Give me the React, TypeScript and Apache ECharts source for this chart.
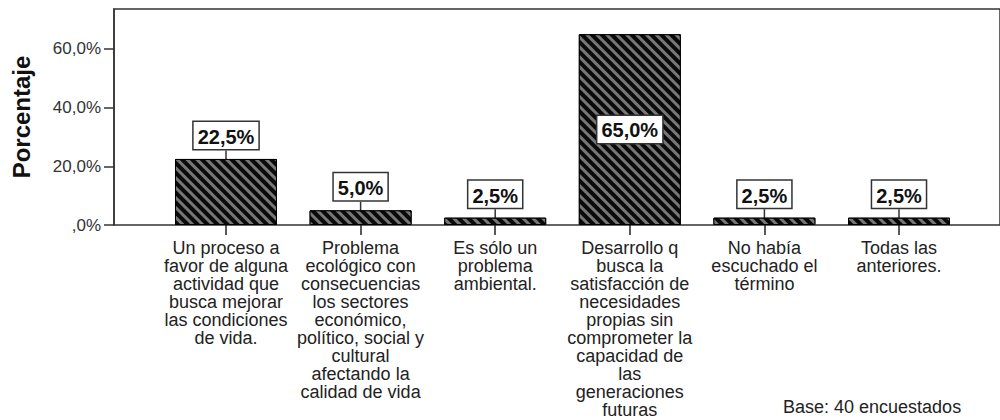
import React, { useEffect, useRef } from "react";
import * as echarts from "echarts";

const categories: string[] = [
  "Un proceso a\nfavor de alguna\nactividad que\nbusca mejorar\nlas condiciones\nde vida.",
  "Problema\necológico con\nconsecuencias\nlos sectores\neconómico,\npolítico, social y\ncultural\nafectando la\ncalidad de vida",
  "Es sólo un\nproblema\nambiental.",
  "Desarrollo q\nbusca la\nsatisfacción de\nnecesidades\npropias sin\ncomprometer la\ncapacidad de\nlas\ngeneraciones\nfuturas",
  "No había\nescuchado el\ntérmino",
  "Todas las\nanteriores.",
];
const percentages: number[] = [22.5, 5.0, 2.5, 65.0, 2.5, 2.5];
const yTicks: number[] = [0, 20, 40, 60];
const yAxisTitle = "Porcentaje";
const baseNote = "Base: 40 encuestados";

const fmtPct = (v: number) => (v === 0 ? ",0%" : v.toFixed(1).replace(".", ",") + "%");

export default function App() {
  const ref = useRef<HTMLDivElement>(null);
  useEffect(() => {
    if (!ref.current) return;
    const chart = echarts.init(ref.current, undefined, { renderer: "svg" });
    const font = "'Liberation Sans', Arial, sans-serif";
    const yMax = 73.6;
    const labelBox = {
      show: true,
      position: "top" as const,
      distance: 0,
      formatter: (p: any) => fmtPct(p.value),
      fontFamily: font,
      fontWeight: "bold" as const,
      fontSize: 20,
      color: "#111",
      backgroundColor: "#fff",
      borderColor: "#333",
      borderWidth: 1.5,
      padding: [5, 4, 2, 4],
    };
    chart.setOption({
      animation: false,
      backgroundColor: "#fff",
      grid: [
        { left: 114, top: 9, width: 897, height: 216, show: true, borderColor: "#333", borderWidth: 1.5, backgroundColor: "transparent" },
        { left: 158.7, top: 9, width: 807.6, height: 216 },
      ],
      xAxis: [
        { type: "category", gridIndex: 0, data: ["x"], show: false },
        {
          type: "category",
          gridIndex: 1,
          data: categories,
          axisLine: { show: false },
          axisTick: { show: true, alignWithLabel: true, length: 10, lineStyle: { color: "#222", width: 1.5 } },
          axisLabel: {
            interval: 0,
            margin: 14,
            fontFamily: font,
            fontSize: 18,
            lineHeight: 18,
            color: "#222",
            align: "center",
          },
        },
      ],
      yAxis: [
        {
          type: "value",
          gridIndex: 0,
          min: 0,
          max: yMax,
          interval: 20,
          name: yAxisTitle,
          nameLocation: "middle",
          nameGap: 81,
          nameTextStyle: { fontFamily: font, fontSize: 24, fontWeight: "bold", color: "#111" },
          axisLine: { show: true, lineStyle: { color: "#333", width: 1.5 } },
          axisTick: { show: true, length: 10, lineStyle: { color: "#333", width: 1.5 } },
          splitLine: { show: false },
          axisLabel: {
            showMaxLabel: false,
            margin: 13,
            fontFamily: font,
            fontSize: 17,
            color: "#333",
            formatter: (v: number) => (yTicks.includes(v) ? fmtPct(v) : ""),
          },
        },
        { type: "value", gridIndex: 1, min: 0, max: yMax, interval: 20, show: false },
      ],
      series: [
        {
          type: "bar",
          xAxisIndex: 1,
          yAxisIndex: 1,
          barWidth: 102,
          data: percentages.map((v) =>
            v > 50 ? { value: v, label: { position: "inside" } } : { value: v }
          ),
          itemStyle: {
            color: "#0a0a0a",
            borderColor: "#000",
            borderWidth: 1,
            decal: {
              symbol: "rect",
              symbolSize: 1,
              color: "#777",
              dashArrayX: [1, 0],
              dashArrayY: [2.5, 4],
              rotation: Math.PI / 4,
            },
          },
          label: labelBox,
          labelLine: { show: true, lineStyle: { color: "#333", width: 1.5 } },
          labelLayout: (p: any) => (p.dataIndex === 3 ? {} : { dy: -10 }),
        },
      ],
      graphic: [
        {
          type: "text",
          left: 783,
          top: 398,
          style: { text: baseNote, fontFamily: font, fontSize: 18, fill: "#222" },
        },
      ],
    });
    return () => chart.dispose();
  }, []);
  return <div ref={ref} style={{ width: 1000, height: 420, position: "absolute", left: 0, top: 0 }} />;
}
